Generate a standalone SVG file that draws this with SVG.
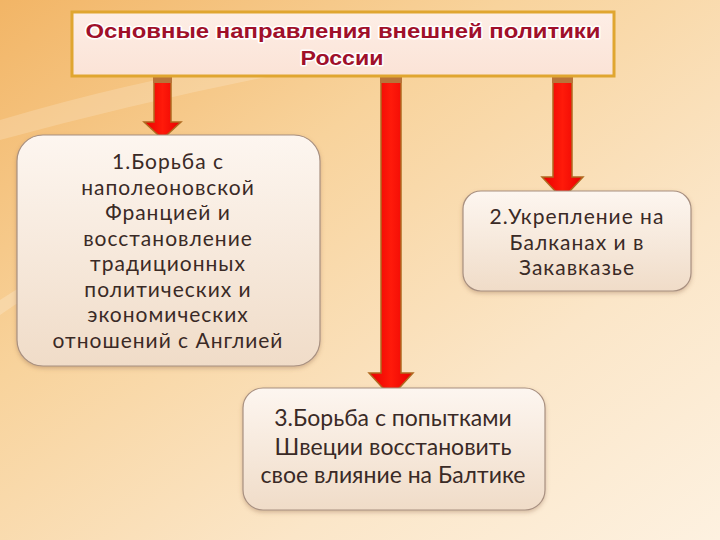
<svg xmlns="http://www.w3.org/2000/svg" width="720" height="540" viewBox="0 0 720 540">
<defs>
<linearGradient id="bg" x1="0" y1="0" x2="1" y2="1">
<stop offset="0" stop-color="#f2b566"/>
<stop offset="0.35" stop-color="#f8d39c"/>
<stop offset="0.7" stop-color="#fbe6c8"/>
<stop offset="1" stop-color="#fdf1e0"/>
</linearGradient>
<linearGradient id="title" x1="0" y1="0" x2="0" y2="1">
<stop offset="0" stop-color="#fdeee6"/>
<stop offset="1" stop-color="#fbe3d6"/>
</linearGradient>
<linearGradient id="box" x1="0" y1="0" x2="0" y2="1">
<stop offset="0" stop-color="#fdf6f0"/>
<stop offset="1" stop-color="#f0dcc8"/>
</linearGradient>
<linearGradient id="stem" x1="0" y1="0" x2="1" y2="0">
<stop offset="0" stop-color="#e80000"/>
<stop offset="0.5" stop-color="#ff1a0a"/>
<stop offset="1" stop-color="#e80000"/>
</linearGradient>
<filter id="sh" x="-10%" y="-10%" width="120%" height="130%">
<feDropShadow dx="0" dy="2" stdDeviation="2" flood-color="#8a6040" flood-opacity="0.35"/>
</filter>
</defs>
<style>
.node rect{fill:url(#box);stroke:#a89080;stroke-width:1.2;filter:url(#sh)}
.node text{font-family:Lato,"Open Sans","Liberation Sans",sans-serif;font-size:21px;letter-spacing:1px;fill:#3a2a26;text-anchor:middle}
#node3 text{font-size:23px;letter-spacing:0}
.ttl{font-family:"Liberation Sans",Arial,sans-serif;font-weight:bold;font-size:21px;fill:#a0102a;text-anchor:middle;stroke:#ffffff;stroke-width:3;paint-order:stroke;stroke-linejoin:round}
.arrow{fill:url(#stem);stroke:#b06a20;stroke-width:1.5;stroke-linejoin:miter}
.cap{fill:#b8743a}
</style>
<rect width="720" height="540" fill="url(#bg)"/>
<path d="M0 120 Q200 60 420 40 L430 48 Q220 80 0 140 Z" fill="#ffffff" opacity="0.18"/>
<path d="M0 300 Q60 260 120 250 L120 262 Q60 272 0 315 Z" fill="#ffffff" opacity="0.2"/>

<g id="connectors">
<path class="arrow" d="M154 80 L171 80 L171 122 L181 122 L162.5 139 L144 122 L154 122 Z"/>
<rect class="cap" x="153" y="77" width="19" height="6"/>
<path class="arrow" d="M381 80 L401 80 L401 373 L413 373 L391 397 L369 373 L381 373 Z"/>
<rect class="cap" x="380" y="77" width="22" height="6"/>
<path class="arrow" d="M553 80 L572 80 L572 177 L583 177 L562.5 199 L542 177 L553 177 Z"/>
<rect class="cap" x="552" y="77" width="21" height="6"/>
</g>

<g id="title-node">
<rect x="72" y="12" width="542" height="64" fill="url(#title)" stroke="#e0a630" stroke-width="3"/>
<text class="ttl" x="343" y="38" textLength="515" lengthAdjust="spacingAndGlyphs">Основные направления внешней политики</text>
<text class="ttl" x="342" y="65" textLength="83" lengthAdjust="spacingAndGlyphs">России</text>
</g>

<g id="node1" class="node">
<rect x="17" y="135" width="303" height="231" rx="26"/>
<text x="168" y="169">1.Борьба с</text>
<text x="168" y="194.5">наполеоновской</text>
<text x="168" y="220">Францией и</text>
<text x="168" y="245.5">восстановление</text>
<text x="168" y="271">традиционных</text>
<text x="168" y="296.5">политических и</text>
<text x="168" y="322">экономических</text>
<text x="168" y="347.5">отношений с Англией</text>
</g>

<g id="node2" class="node">
<rect x="463" y="191" width="228" height="100" rx="18"/>
<text x="577" y="224">2.Укрепление на</text>
<text x="577" y="249.5">Балканах и в</text>
<text x="577" y="275">Закавказье</text>
</g>

<g id="node3" class="node">
<rect x="243" y="388" width="302" height="122" rx="20"/>
<text x="393" y="426">3.Борьба с попытками</text>
<text x="393" y="455">Швеции восстановить</text>
<text x="393" y="483">свое влияние на Балтике</text>
</g>
</svg>
